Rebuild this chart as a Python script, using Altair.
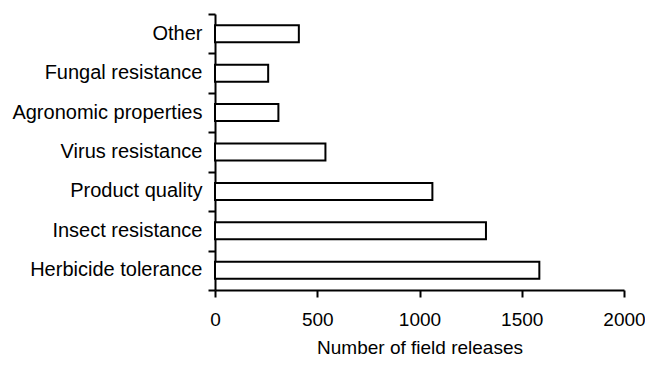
import altair as alt
import pandas as pd

categories = ["Other", "Fungal resistance", "Agronomic properties\u00a0", "Virus resistance",
              "Product quality\u00a0", "Insect resistance", "Herbicide tolerance"]
releases = [410, 260, 310, 540, 1063, 1325, 1586]
x_ticks = [0, 500, 1000, 1500, 2000]
boundaries = [0, 1, 2, 3, 4, 5, 6, 7]

df = pd.DataFrame({"category": categories, "releases": releases})

FONT = "Liberation Sans"
FS = 20

bars = alt.Chart(df).mark_bar(
    fill="white", stroke="black", strokeWidth=2, size=17
).encode(
    x=alt.X("releases:Q",
            scale=alt.Scale(domain=[0, 2000], nice=False),
            axis=alt.Axis(values=x_ticks, format="d", labelFlush=False,
                          title="Number of field releases", grid=False,
                          domainColor="black", domainWidth=2, tickColor="black", tickWidth=2,
                          tickSize=7, labelPadding=13, labelFontSize=19, labelFont=FONT,
                          labelColor="black", titleFont=FONT, titleFontSize=19,
                          titleFontWeight="normal", titleColor="black", titlePadding=9)),
    y=alt.Y("category:N", sort=categories,
            scale=alt.Scale(paddingInner=0, paddingOuter=0),
            axis=alt.Axis(title=None, ticks=False, tickSize=0, labelPadding=13,
                          labelLimit=0, labelFontSize=FS, labelFont=FONT, labelColor="black",
                          domainColor="black", domainWidth=2, grid=False)),
)

ticks_layer = alt.Chart(df).mark_point(opacity=0).encode(
    y=alt.Y(datum=0, type="quantitative",
            scale=alt.Scale(domain=[0, 7], nice=False, zero=False),
            axis=alt.Axis(values=boundaries, labels=False, title=None, domain=False,
                          grid=False, tickColor="black", tickWidth=2, tickSize=7,
                          orient="left")),
)

chart = alt.layer(bars, ticks_layer).resolve_scale(y="independent").properties(
    width=409, height=276,
    autosize=alt.AutoSizeParams(type="none"),
    padding={"left": 207, "top": 6, "right": 21, "bottom": 67},
).configure_view(stroke=None)

chart.save("out.html", embed_options={"renderer": "svg", "actions": False})
